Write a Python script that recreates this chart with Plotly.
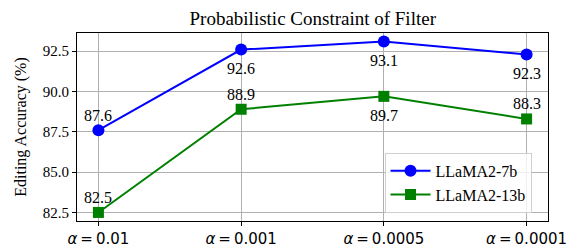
import plotly.graph_objects as go

alphas = ["0.01", "0.001", "0.0005", "0.0001"]
categories = [f"<i>α</i>\u2009=\u2009{a}" for a in alphas]
llama7b = [87.6, 92.6, 93.1, 92.3]
llama13b = [82.5, 88.9, 89.7, 88.3]
label_pos_7b = ["above", "below", "below", "below"]
label_pos_13b = ["above", "above", "below", "above"]
yticks = [82.5, 85.0, 87.5, 90.0, 92.5]

x = list(range(len(categories)))
serif = "Liberation Serif, Times New Roman, serif"

# page body has an 8px default margin; compensate so plot matches 580x251 window
OFF = 8
W, H = 580 - OFF, 251 - OFF
L, R, T, B = 77 - OFF, 31.5, 33 - OFF, 30

fig = go.Figure()
fig.add_trace(go.Scatter(x=x, y=llama7b, mode="lines+markers", name="LLaMA2-7b",
                         line=dict(color="#0000ff", width=2),
                         marker=dict(symbol="circle", size=12, color="#0000ff")))
fig.add_trace(go.Scatter(x=x, y=llama13b, mode="lines+markers", name="LLaMA2-13b",
                         line=dict(color="#008000", width=2),
                         marker=dict(symbol="square", size=11, color="#008000")))

for vals, pos in ((llama7b, label_pos_7b), (llama13b, label_pos_13b)):
    for xi, v, p in zip(x, vals, pos):
        fig.add_annotation(x=xi, y=v, text=f"{v:.1f}", showarrow=False,
                           yshift=15 if p == "above" else -19,
                           font=dict(family=serif, size=16, color="black"))

fig.update_layout(
    width=W, height=H,
    margin=dict(l=L, r=R, t=T, b=B),
    paper_bgcolor="white", plot_bgcolor="white",
    title=dict(text="Probabilistic Constraint of Filter",
               x=((77 + 548.5) / 2 - OFF) / W, xanchor="center",
               y=1 - (18 - OFF) / H, yanchor="middle",
               font=dict(family=serif, size=19, color="black")),
    legend=dict(x=0.965, xanchor="right", y=0.043, yanchor="bottom",
                bgcolor="rgba(255,255,255,0.8)", bordercolor="#d0d0d0", borderwidth=1,
                font=dict(family=serif, size=16, color="black"),
                itemwidth=40, tracegroupgap=0),
    showlegend=True,
)
fig.update_xaxes(range=[-0.15, 3.15], tickvals=x, ticktext=categories, automargin=False,
                 tickfont=dict(family="DejaVu Sans", size=15, color="black"),
                 showgrid=True, gridcolor="#b0b0b0", gridwidth=1,
                 showline=True, linecolor="black", linewidth=1, mirror=True,
                 ticks="outside", ticklen=4, tickcolor="black", zeroline=False)
fig.update_yaxes(range=[81.97, 93.63], tickvals=yticks, automargin=False,
                 ticktext=[f"{t:.1f}" for t in yticks],
                 tickfont=dict(family=serif, size=15, color="black"),
                 title=dict(text="Editing Accuracy (%)", font=dict(family=serif, size=16, color="black"),
                            standoff=12),
                 showgrid=True, gridcolor="#b0b0b0", gridwidth=1,
                 showline=True, linecolor="black", linewidth=1, mirror=True,
                 ticks="outside", ticklen=4, tickcolor="black", zeroline=False)

fig.write_html("out.html")
